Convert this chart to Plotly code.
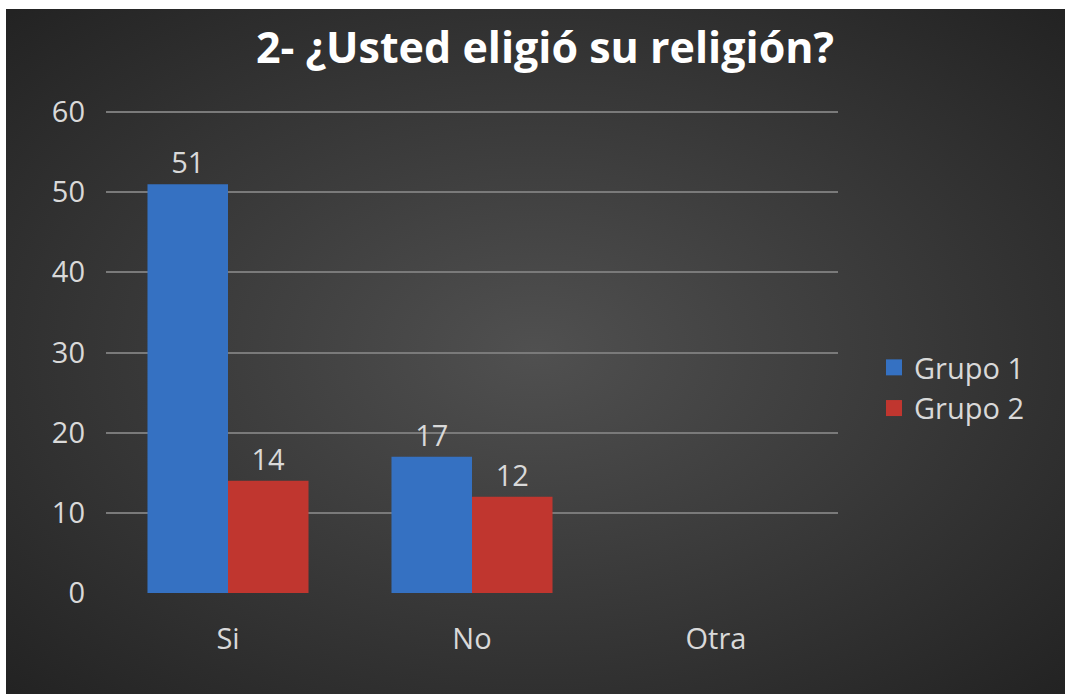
import plotly.graph_objects as go
import base64

categories = ["Si", "No", "Otra"]
grupo1 = [51, 17, None]
grupo2 = [14, 12, None]
y_ticks = [0, 10, 20, 30, 40, 50, 60]
series_names = ["Grupo 1", "Grupo 2"]
series_colors = ["#3571c2", "#c0362f"]

W, H = 1065, 694
L, R, T, B = 106, 227, 110, 101
pw, ph = W - L - R, H - T - B

svg = ('<svg xmlns="http://www.w3.org/2000/svg" width="1059" height="685" viewBox="0 0 1059 685" preserveAspectRatio="none">'
       '<defs><radialGradient id="g" cx="50%" cy="50%" r="70%">'
       '<stop offset="0%" stop-color="#505050"/><stop offset="100%" stop-color="#232323"/>'
       '</radialGradient></defs><rect width="1059" height="685" fill="url(#g)"/></svg>')
src = "data:image/svg+xml;base64," + base64.b64encode(svg.encode()).decode()

font = "Open Sans"
txtcol = "#d9d9d9"
fs = 29

fig = go.Figure()
for name, vals, col in zip(series_names, [grupo1, grupo2], series_colors):
    fig.add_trace(go.Bar(name=name, x=categories, y=vals, marker=dict(color=col, line=dict(width=0)),
                         text=[str(v) if v is not None else "" for v in vals], textposition="outside",
                         textfont=dict(size=fs, color=txtcol, family=font), cliponaxis=False,
                         showlegend=False, legendgroup=name))
for name, col in zip(series_names, series_colors):
    fig.add_trace(go.Scatter(name=name, x=[None], y=[None], mode="markers",
                             marker=dict(symbol="square", size=16, color=col),
                             legendgroup=name, showlegend=True))

fig.update_layout(
    width=W, height=H,
    margin=dict(l=L, r=R, t=T, b=B, autoexpand=False),
    paper_bgcolor="white", plot_bgcolor="rgba(0,0,0,0)",
    barmode="group", bargap=0.34, bargroupgap=0,
    title=dict(text="<b>2- ¿Usted eligió su religión?</b>", x=545 / W, xanchor="center",
               y=1 - 48 / H, yanchor="middle", yref="container",
               font=dict(size=43, color="white", family=font)),
    font=dict(family=font, color=txtcol),
    legend=dict(x=(874 - L) / pw, xanchor="left", y=(H - B - 388) / ph, yanchor="middle",
                font=dict(size=fs, color=txtcol, family=font), bgcolor="rgba(0,0,0,0)",
                itemwidth=30, tracegroupgap=0),
    images=[dict(source=src, xref="paper", yref="paper",
                 x=(6 - L) / pw, y=(H - B - 9) / ph,
                 sizex=(W - 6) / pw, sizey=(H - 9) / ph,
                 xanchor="left", yanchor="top", sizing="stretch", layer="below")],
    showlegend=True,
)
fig.update_yaxes(range=[0, 60.25], tickvals=y_ticks, showgrid=True, gridcolor="#7a7a7a", gridwidth=2,
                 zeroline=True, zerolinecolor="rgba(0,0,0,0)", showline=False,
                 tickfont=dict(size=fs, color=txtcol, family=font), ticklabelstandoff=20)
fig.update_xaxes(showgrid=False, showline=False, zeroline=False,
                 tickfont=dict(size=fs, color=txtcol, family=font), ticklabelstandoff=26)

fig.write_html("out.html", config={"displayModeBar": False},
               post_script="document.body.style.margin='0';")
